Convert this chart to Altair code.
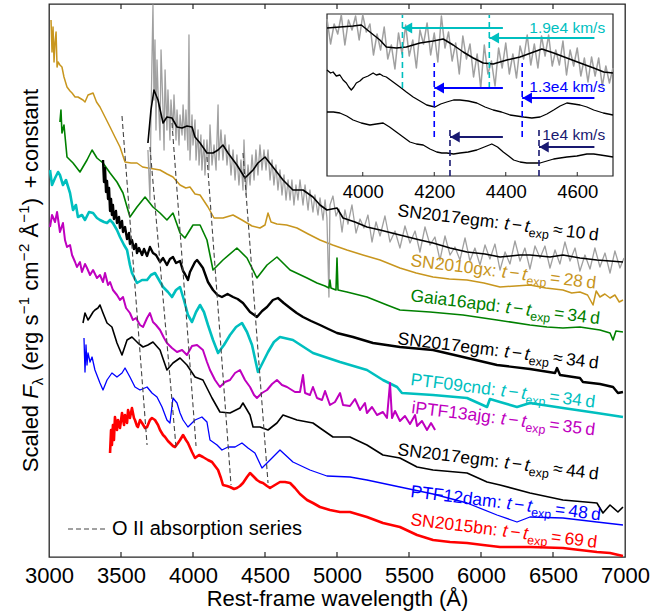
import altair as alt
import pandas as pd

FONT = "Liberation Sans"
GOLD = "#C8961E"; GREEN = "#008000"; CYAN = "#00BFBF"; MAGENTA = "#BF00BF"
BLUE = "#0000FF"; RED = "#FF0000"; GRAY = "#A0A0A0"; NAVY = "#191970"; BLACK = "#000000"

# ---------------- main panel spectra (wavelength in Angstrom, scaled flux + constant) -------------
gold_wl = [3014,3021,3028,3035,3042,3049,3056,3063,3076,3090,3104,3125,3146,3160,3181,3201,3236,3250,3271,3306,
           3330,3354,3389,3424,3458,3493,3528,3570,3611,3650,3687,3730,3771,3820,3861,3910,3950,3979,4014,4049,
           4104,4146,4208,4278,4340,4410,4465,4500,4521,4542,4583,4650,4722,4800,4882,4970,5069,5180,5299,5437,
           5550,5667,5780,5903,6020,6132,6240,6340,6450,6569,6630,6687,6740,6778,6800,6826,6860,6896,6930,6960,6986]
gold_fx = [53.7,50.5,53.0,49.5,51.5,52.5,49.0,49.5,49.2,49.0,48.0,47.0,46.6,46.4,46.0,46.0,45.7,45.5,46.2,46.4,
           45.5,45.0,44.0,43.0,42.0,41.0,39.5,39.4,39.4,39.0,38.9,38.8,38.7,38.3,38.0,37.2,36.9,37.0,36.3,36.2,
           35.0,33.9,33.9,34.2,33.7,33.1,32.9,33.2,34.4,33.5,33.3,33.2,32.9,32.3,31.7,31.2,30.7,30.2,29.7,28.9,
           28.4,28.0,27.8,27.7,27.4,27.0,27.1,27.2,26.9,26.7,26.4,26.5,26.2,25.2,26.6,26.0,26.3,25.9,26.2,25.5,25.7]

raw10_wl = [3687,3701,3708,3715,3722,3729,3736,3743,3750,3757,3771,3778,3792,3799,3806,3819,3826,3840,3847,3861,
            3868,3882,3889,3903,3910,3924,3931,3944,3951,3965,3972,3979,3993,4000,4014,4021,4035,4042,4055,4062,
            4076,4083,4097,4111,4118,4132,4146,4160,4174,4180,4194,4208,4222,4236,4250,4264,4278,4292,4305,4319,
            4333,4347,4354,4368,4382,4396,4410,4424,4437,4451,4465,4479,4493,4507,4521,4535,4549,4562,4576,4590,
            4604,4618,4632,4646,4660,4674,4687,4701,4715,4729,4743,4764,4778,4799,4812,4833,4847,4868,4882,4903,
            4917,4930,4944,4951,4972,4993,5014,5035,5055,5076,5104,5132,5160,5187,5215,5243,5271,5299,5333,5368,
            5403,5437,5472,5507,5542,5576,5611,5646,5680,5715,5750,5785,5819,5854,5889,5923,5958,5993,6028,6062,
            6097,6132,6167,6201,6236,6271,6305,6340,6375,6410,6444,6479,6514,6548,6583,6618,6653,6687,6722,6757,
            6791,6826,6861,6896,6930,6965,6993]
raw10_fx = [40.7,35.7,43.7,49.7,55.2,45.7,51.7,42.7,49.7,46.7,41.7,50.7,44.7,40.7,48.7,42.7,46.7,41.7,45.7,42.7,
            46.2,41.7,44.7,41.2,44.2,42.2,45.2,41.7,44.7,40.7,52.2,39.7,44.2,41.2,43.7,39.7,42.7,39.2,42.2,38.7,
            41.7,38.2,41.7,38.7,43.2,39.2,41.2,38.7,45.2,39.7,42.7,39.7,42.2,39.2,41.2,38.2,40.7,37.7,40.2,37.2,
            39.7,36.7,41.7,36.2,39.2,37.2,40.2,37.7,40.7,38.2,41.2,38.7,40.7,38.7,40.7,37.7,39.7,37.2,39.2,36.7,
            38.7,36.2,38.2,35.7,37.7,35.7,37.7,35.2,37.2,35.7,37.7,35.2,37.2,34.7,36.7,34.5,36.2,34.2,35.9,33.7,
            35.7,33.9,26.0,35.2,36.1,34.1,34.8,32.5,34.7,33.3,35.2,32.4,33.8,32.9,34.2,31.5,33.5,32.1,34.1,31.5,
            32.6,30.9,33.1,31.4,32.6,30.5,33.0,31.2,32.0,29.7,32.1,30.2,31.0,29.7,31.9,29.6,30.9,29.2,31.2,29.8,
            31.3,28.7,30.5,29.3,31.6,29.6,30.9,28.8,31.1,29.9,31.1,28.9,30.7,29.3,31.5,29.6,30.9,28.6,30.2,28.8,
            30.9,29.0,30.4,28.4,30.6,28.9,29.9]

sm10_wl = [3687,3708,3729,3757,3792,3819,3854,3889,3924,3958,3993,4014,4049,4097,4139,4174,4208,4243,4305,4361,
           4417,4451,4500,4555,4625,4694,4764,4833,4882,4930,5000,5042,5125,5208,5299,5437,5576,5667,5785,5903,
           6028,6132,6271,6340,6479,6569,6687,6805,6896,6986]
sm10_fx = [41.4,44.7,46.7,45.7,43.4,44.0,43.9,43.0,42.9,43.1,43.0,42.0,41.4,40.4,40.4,40.7,41.2,40.4,39.2,37.9,
           38.7,39.4,40.0,39.0,37.7,36.7,36.7,36.0,35.2,34.7,34.9,33.9,33.5,33.0,32.7,32.2,31.7,31.4,30.9,30.5,
           30.3,30.0,30.2,30.2,30.0,30.2,29.9,29.7,29.6,29.5]

gaia_wl = [3076,3083,3090,3104,3125,3167,3215,3264,3299,3333,3375,3424,3472,3514,3562,3611,3667,3722,3771,3819,
           3861,3910,3944,4000,4049,4097,4139,4153,4208,4305,4375,4444,4514,4583,4674,4792,4861,4917,4944,4951,
           4958,4993,5000,5007,5069,5208,5347,5437,5646,5875,6111,6340,6458,6569,6687,6826,6896,6917,6937,6986]
gaia_fx = [43.5,44.7,42.4,43.2,40.0,39.4,38.5,39.7,40.7,39.9,39.4,38.4,37.5,36.4,34.0,35.0,36.0,35.0,34.4,33.7,
           34.4,32.4,31.9,33.2,33.2,31.7,28.7,28.9,29.7,30.9,29.9,27.9,29.2,30.0,28.7,27.9,27.4,27.1,26.9,27.7,
           26.9,26.7,29.9,26.7,26.5,26.0,25.2,24.7,24.5,24.2,23.7,23.2,23.0,22.9,23.0,22.7,22.4,21.7,22.6,22.5]

egm34_wl = [3375,3382,3389,3396,3403,3410,3417,3424,3431,3437,3444,3451,3465,3472,3486,3493,3507,3514,3528,3542,
            3556,3562,3576,3590,3604,3611,3625,3646,3660,3681,3701,3722,3743,3771,3792,3819,3840,3861,3882,3910,
            3931,3944,3965,3979,3993,4014,4028,4049,4069,4104,4139,4170,4201,4240,4278,4310,4347,4396,4444,4480,
            4514,4555,4590,4630,4674,4720,4764,4820,4882,4940,5000,5111,5250,5437,5667,5875,6111,6340,6514,6528,
            6549,6687,6708,6826,6917,6951,6986]
egm34_fx = [39.7,37.5,38.9,36.5,37.6,35.8,36.9,34.6,35.8,34.2,35.2,33.8,34.6,33.4,34.0,32.9,33.6,32.5,33.0,31.8,
            32.4,31.3,31.7,30.8,31.3,30.4,30.9,30.2,30.8,30.1,31.0,30.4,30.2,29.5,29.9,29.2,29.8,30.0,29.4,29.6,
            28.6,28.3,27.7,28.5,28.9,29.5,29.7,29.3,28.9,27.5,26.7,26.2,26.0,26.3,26.0,25.8,25.4,24.5,24.0,24.6,
            25.0,25.7,25.9,25.4,24.9,24.4,24.0,23.6,23.2,22.8,22.4,22.0,21.4,21.0,20.7,20.0,19.2,18.8,18.4,18.9,
            18.2,17.9,17.5,17.3,17.0,16.4,16.5]

ptf09_wl = [3007,3021,3042,3063,3076,3097,3118,3146,3167,3187,3201,3229,3250,3278,3306,3333,3354,3382,3403,3424,
            3444,3472,3493,3521,3542,3562,3576,3611,3646,3681,3708,3736,3764,3792,3826,3854,3882,3910,3937,3965,
            3993,4021,4049,4076,4104,4139,4174,4215,4257,4299,4340,4375,4410,4451,4486,4521,4562,4604,4694,4833,
            5021,5208,5319,5417,5451,5667,5903,6042,6062,6132,6250,6340,6569,6805,6986]
ptf09_fx = [38.7,37.2,37.9,38.5,38.2,37.2,37.7,36.4,34.7,35.2,34.0,34.2,33.7,34.5,34.4,33.9,33.7,33.5,33.4,33.7,
            33.4,32.7,32.0,31.2,30.7,29.2,28.4,27.4,27.7,27.7,28.2,28.4,27.7,27.0,26.5,26.0,26.7,27.0,25.7,24.2,
            23.5,24.5,25.2,24.5,23.2,21.7,20.4,21.2,22.2,23.0,23.4,22.5,21.2,18.5,19.5,20.5,21.5,22.0,21.7,20.4,
            19.5,18.7,17.7,17.0,16.4,16.2,15.9,15.0,15.8,15.5,15.0,15.4,14.9,14.4,14.0]

ptf13_wl = [3007,3021,3042,3056,3076,3097,3111,3125,3146,3160,3181,3194,3215,3229,3250,3264,3285,3306,3333,3354,
            3375,3389,3410,3424,3444,3472,3493,3514,3535,3562,3583,3604,3632,3653,3681,3701,3722,3743,3771,3799,
            3819,3854,3889,3924,3958,3993,4028,4069,4097,4118,4153,4187,4222,4257,4292,4326,4361,4396,4424,4444,
            4479,4514,4549,4583,4618,4653,4708,4743,4764,4778,4812,4833,4861,4896,4917,4951,4986,5021,5042,5090,
            5125,5160,5194,5208,5243,5278,5319,5347,5368,5382,5403,5437,5472,5507,5542,5556,5590,5625,5653,5681]
ptf13_fx = [33.0,34.2,33.5,34.5,32.5,33.4,31.7,31.0,31.2,30.2,29.5,29.0,29.5,28.5,29.3,28.9,28.2,28.7,27.9,28.2,
            27.5,28.4,27.2,27.5,26.7,26.2,25.7,26.0,24.9,24.4,23.7,23.9,23.2,23.0,23.9,24.4,23.5,23.2,22.7,21.9,
            21.4,20.9,20.5,20.7,20.2,21.1,21.2,20.7,19.5,18.7,17.7,17.0,17.5,17.7,18.4,18.7,17.7,17.0,16.2,15.9,
            16.4,16.7,17.3,17.7,17.2,17.0,16.5,16.5,18.2,16.4,16.2,17.0,15.9,15.7,16.6,15.2,15.5,16.4,15.2,15.1,
            15.8,14.7,15.4,14.4,15.0,14.2,14.5,13.9,17.4,13.9,14.6,13.6,14.1,13.3,14.2,13.1,13.6,12.7,13.4,12.7]

egm44_wl = [3236,3250,3271,3285,3306,3319,3340,3354,3375,3403,3437,3472,3507,3542,3576,3618,3653,3687,3722,3771,
            3819,3861,3910,3958,4014,4069,4132,4187,4257,4326,4347,4396,4417,4465,4521,4583,4625,4722,4833,4882,
            4972,5090,5208,5319,5437,5556,5667,5903,6042,6132,6340,6569,6805,6847,6896,6951,6986]
egm44_fx = [23.4,24.4,23.7,24.0,24.5,24.7,24.9,25.2,24.4,23.4,23.0,21.4,20.2,21.7,22.0,21.4,21.0,21.2,21.5,20.7,
            18.7,19.4,19.9,19.2,18.0,17.7,15.9,14.5,14.4,14.9,15.4,14.2,13.0,13.0,12.7,13.4,14.2,13.7,13.4,12.9,
            12.0,12.0,11.2,10.2,9.9,9.0,8.7,8.4,7.5,7.2,6.4,5.7,5.4,4.4,5.2,4.5,5.0]

ptf12_wl = [3243,3250,3257,3264,3271,3285,3299,3319,3354,3375,3403,3437,3472,3507,3528,3562,3597,3632,3681,3715,
            3750,3785,3819,3840,3861,3889,3910,3931,3965,4014,4062,4097,4118,4167,4201,4243,4292,4340,4382,4430,
            4479,4535,4604,4694,4812,4930,5090,5208,5437,5667,5903,6111,6250,6340,6569,6805,6986]
ptf12_fx = [21.9,18.5,21.2,19.2,20.4,19.5,20.0,18.7,17.4,16.7,17.7,18.4,18.0,18.4,18.9,18.0,17.0,16.7,17.0,16.4,
            16.0,15.0,13.7,13.4,15.9,15.4,14.4,13.7,13.0,13.7,14.0,13.5,11.7,11.2,10.7,11.0,11.0,11.4,10.9,10.4,
            8.9,9.7,10.7,9.5,8.7,8.1,8.0,7.7,7.0,6.3,5.4,4.2,3.5,4.0,3.9,3.5,3.2]

sn15_wl = [3424,3431,3437,3444,3451,3458,3472,3479,3493,3507,3521,3528,3542,3549,3562,3576,3590,3597,3611,3618,
           3632,3646,3667,3681,3701,3715,3736,3757,3771,3792,3806,3826,3840,3861,3875,3896,3910,3931,3951,3965,
           3993,4014,4042,4069,4104,4132,4153,4174,4194,4208,4236,4257,4285,4305,4326,4347,4375,4396,4424,4444,
           4465,4486,4514,4535,4569,4604,4639,4674,4708,4743,4792,4833,4882,4951,5021,5090,5208,5319,5437,5556,
           5667,5785,5903,6014,6132,6340,6569,6805,6896,6986]
sn15_fx = [10.4,12.7,11.2,13.2,11.7,14.0,12.7,13.7,12.9,14.4,13.2,14.2,13.4,14.7,13.9,14.9,13.9,13.7,13.1,13.0,
           13.7,13.4,12.9,13.0,13.7,13.9,13.7,13.2,12.7,12.2,12.0,11.6,11.4,11.1,11.0,11.4,11.7,12.2,11.7,11.4,
           10.5,9.9,10.2,10.0,9.7,9.5,9.1,8.7,7.9,7.2,7.1,7.0,6.8,6.9,7.1,7.4,8.0,8.4,8.0,7.7,
           7.5,7.4,7.1,6.9,7.2,7.5,7.5,7.4,6.9,6.3,5.7,5.4,5.0,4.7,4.5,4.5,4.0,3.4,3.0,2.2,
           1.7,1.5,1.4,1.2,1.0,1.0,0.9,0.5,0.4,0.1]

# O II absorption series guide lines (start / end points)
oii_wl_top = [3507, 3701, 3854, 4097, 4347]
oii_fx_top = [44.1, 41.0, 43.4, 40.0, 40.4]
oii_wl_bot = [3681, 3882, 4021, 4264, 4521]
oii_fx_bot = [11.2, 11.0, 11.1, 7.2, 7.4]

# spectrum labels
lab_names = ["SN2017egm", "SN2010gx", "Gaia16apd", "SN2017egm", "PTF09cnd", "iPTF13ajg", "SN2017egm", "PTF12dam", "SN2015bn"]
lab_rel = ["≈", "=", "=", "≈", "=", "=", "≈", "=", "="]
lab_days = ["10", "28", "34", "34", "34", "35", "44", "48", "69"]
lab_colors = [BLACK, GOLD, GREEN, BLACK, CYAN, MAGENTA, BLACK, BLUE, RED]
lab_wl = [5417, 5507, 5507, 5417, 5507, 5514, 5417, 5507, 5507]
lab_fx = [34.1, 29.1, 25.6, 21.3, 17.2, 14.4, 10.2, 6.0, 3.2]

x_ticks = [3000, 3500, 4000, 4500, 5000, 5500, 6000, 6500, 7000]

# ---------------- inset (zoom on 3900-4700 A) ----------------
in_raw_wl = list(range(3900, 4701, 10))
in_raw_fx = [15.7,13.2,15.2,14.2,16.1,13.1,15.6,14.6,16.0,13.6,16.1,14.4,15.2,12.1,14.2,12.6,14.9,11.7,13.1,10.7,
             14.3,12.2,15.1,12.0,13.6,10.8,14.6,13.2,15.3,12.1,14.3,11.4,16.0,12.8,14.4,11.5,13.3,10.2,14.0,11.7,
             13.2,9.9,12.2,8.8,13.1,10.2,11.5,9.0,12.8,10.8,13.3,10.2,12.2,9.8,13.0,11.7,14.1,11.1,13.2,10.8,
             14.0,12.0,14.1,11.0,12.6,11.1,13.5,10.1,12.6,11.0,12.8,10.0,11.8,9.4,11.9,10.0,11.8,9.0,11.0,9.3,10.8]
in10_wl = [3900,3936,3973,3996,4020,4048,4066,4094,4122,4160,4197,4225,4253,4281,4309,4337,4365,4403,4440,4478,
           4501,4534,4571,4608,4646,4674,4700]
in10_fx = [14.8,14.9,15.0,15.1,14.4,13.6,12.9,12.8,12.9,13.3,13.5,13.7,13.1,12.4,11.8,11.3,11.2,11.6,11.9,12.4,
           12.7,12.3,11.8,11.3,10.8,10.4,10.3]
in34_wl = [3900,3910,3917,3926,3936,3945,3954,3961,3968,3975,3982,3992,4001,4015,4029,4038,4048,4057,4066,4085,
           4104,4122,4141,4160,4179,4190,4202,4218,4235,4254,4272,4295,4319,4342,4365,4388,4412,4431,4450,4473,
           4496,4515,4534,4552,4571,4590,4608,4627,4646,4673,4700]
in34_fx = [10.6,10.3,10.4,10.0,10.1,9.6,9.3,8.9,8.6,8.9,9.3,9.5,9.8,10.0,10.3,10.1,10.2,10.0,9.9,9.4,
           8.9,8.4,7.9,7.5,7.1,7.0,6.9,7.2,7.4,7.6,7.6,7.5,7.3,6.9,6.6,6.4,6.1,6.0,5.9,5.8,
           5.9,6.2,6.6,7.0,7.3,7.2,7.1,6.9,6.6,6.3,6.1]
in44_wl = [3900,3918,3936,3955,3973,3996,4020,4038,4057,4075,4094,4113,4132,4150,4169,4188,4207,4221,4235,4254,
           4272,4295,4319,4340,4361,4377,4393,4408,4422,4440,4459,4477,4496,4515,4534,4552,4571,4599,4627,4646,
           4665,4683,4700]
in44_fx = [6.4,6.4,6.3,6.0,5.6,5.3,5.1,5.2,5.3,4.9,4.4,3.9,3.4,3.2,3.1,2.7,2.4,2.3,2.3,2.2,
           2.3,2.4,2.6,2.9,3.2,2.9,2.4,2.0,1.6,1.4,1.3,1.3,1.3,1.5,1.7,1.8,1.9,2.0,2.2,2.2,
           2.1,2.0,1.9]

vel_head_wl = [4111, 4354, 4200, 4446, 4244, 4493]
vel_tail_wl = [4392, 4648, 4392, 4648, 4392, 4648]
vel_arrow_fx = [14.8, 13.8, 8.8, 7.8, 3.9, 2.9]
vel_line_lo = [8.8, 8.8, 3.9, 3.9, 0.0, 0.0]
vel_line_hi = [16.1, 16.1, 11.3, 11.3, 4.8, 4.8]
vel_colors = [CYAN, CYAN, BLUE, BLUE, NAVY, NAVY]
vel_text = ["1.9e4 km/s", "1.3e4 km/s", "1e4 km/s"]
vel_text_fx = [14.3, 8.4, 3.6]
vel_text_colors = [CYAN, BLUE, NAVY]
inset_ticks = [4000, 4200, 4400, 4600]

# ---------------- helpers ----------------
AW = {' ': 0.278, ':': 0.278, '−': 0.584, '≈': 0.584, '=': 0.584, '+': 0.584, '(': 0.333, ')': 0.333,
      '.': 0.278, '/': 0.278, 'S': 0.667, 'N': 0.722, 'G': 0.778, 'P': 0.667, 'T': 0.611, 'F': 0.611,
      'A': 0.667, 'Å': 0.667, 'a': 0.556, 'b': 0.556, 'c': 0.5, 'd': 0.556, 'e': 0.556, 'g': 0.556,
      'i': 0.222, 'j': 0.222, 'k': 0.5, 'l': 0.222, 'm': 0.833, 'n': 0.556, 'o': 0.556, 'p': 0.556,
      'r': 0.333, 's': 0.5, 't': 0.278, 'x': 0.5, 'λ': 0.556}


def tw(s, size):
    return sum(AW.get(c, 0.556) for c in s) * size


def piece(txt, size, style="normal", dy=0, slot=None, trail=0.0):
    """slot: width (em) of a centred slot; otherwise left aligned with advance = text width + trail (em)."""
    if slot is not None:
        return dict(txt=txt, size=size, style=style, dy=dy, align="center", adv=slot * size)
    return dict(txt=txt, size=size, style=style, dy=dy, align="left", adv=tw(txt, size) + trail * size)


def place(pieces, chart_fn, angle, color):
    out = []
    dx = 0.0
    for p in pieces:
        off = dx + (p["adv"] / 2 if p["align"] == "center" else 0)
        out.append(chart_fn().mark_text(text=p["txt"], align=p["align"], baseline="alphabetic", angle=angle,
                                        dx=off, dy=p["dy"], fontSize=p["size"], fontStyle=p["style"],
                                        color=color, font=FONT))
        dx += p["adv"]
    return out, dx


W, H = 576, 553
XS = alt.Scale(domain=[3000, 7000], nice=False, zero=False)
YS = alt.Scale(domain=[0, 55.3], nice=False, zero=False)
XAX = alt.Axis(values=x_ticks, format="d", labelFontSize=22, titleFontSize=22, ticks=False, tickSize=0,
               domain=False, grid=False, labelPadding=8, titlePadding=2, labelFlush=False, labelOverlap=False,
               titleFontWeight="normal", labelColor="black", titleColor="black", labelFont=FONT, titleFont=FONT,
               title="Rest-frame wavelength (Å)")

IXS = alt.Scale(domain=[3900, 4700], range=[278, 564], nice=False, zero=False)
IYS = alt.Scale(domain=[0, 16.2], range=[172, 10], nice=False, zero=False)
IXAX = alt.Axis(values=inset_ticks, format="d", labelFontSize=18.5, ticks=False, tickSize=0, domain=False,
                grid=False, labelPadding=6, labelFlush=False, labelOverlap=False, orient="bottom",
                offset=-(H - 172), title=None, labelFont=FONT, labelColor="black")


def mx(field="wl"):
    return alt.X(f"{field}:Q", scale=XS, axis=XAX)


def my(field="fx"):
    return alt.Y(f"{field}:Q", scale=YS, axis=None)


def ix(field="wl"):
    return alt.X(f"{field}:Q", scale=IXS, axis=IXAX)


def iy(field="fx"):
    return alt.Y(f"{field}:Q", scale=IYS, axis=None)


def spec(wl, fx, color, width, inset=False):
    df = pd.DataFrame({"wl": wl, "fx": fx})
    m = alt.Chart(df).mark_line(color=color, strokeWidth=width, strokeJoin="round", clip=not inset)
    if inset:
        return m.encode(x=ix(), y=iy())
    return m.encode(x=mx(), y=my())


main_layers = []
# frame ticks (inward)
tick_df = pd.DataFrame({"wl": x_ticks[1:-1], "b0": [0.0] * 7, "b1": [0.5] * 7, "t0": [55.3] * 7, "t1": [54.8] * 7})
main_layers.append(alt.Chart(tick_df).mark_rule(color="#262626", strokeWidth=1.2).encode(x=mx(), y=my("b0"), y2="b1"))
main_layers.append(alt.Chart(tick_df).mark_rule(color="#262626", strokeWidth=1.2).encode(x=mx(), y=my("t0"), y2="t1"))

main_layers += [
    spec(gold_wl, gold_fx, GOLD, 1.5),
    spec(raw10_wl, raw10_fx, GRAY, 1.3),
    spec(sm10_wl, sm10_fx, BLACK, 1.6),
    spec(gaia_wl, gaia_fx, GREEN, 1.6),
    spec(egm34_wl, egm34_fx, BLACK, 2.4),
    spec(ptf09_wl, ptf09_fx, CYAN, 2.6),
    spec(ptf13_wl, ptf13_fx, MAGENTA, 2.0),
    spec(egm44_wl, egm44_fx, BLACK, 1.6),
    spec(ptf12_wl, ptf12_fx, BLUE, 1.3),
    spec(sn15_wl, sn15_fx, RED, 2.6),
]

oii_df = pd.DataFrame({"wl": oii_wl_top, "fx": oii_fx_top, "wl2": oii_wl_bot, "fx2": oii_fx_bot})
main_layers.append(alt.Chart(oii_df).mark_rule(color="#444444", strokeWidth=1.1, strokeDash=[5, 3]).encode(
    x=mx(), y=my(), x2="wl2", y2="fx2"))

# legend for O II
leg_df = pd.DataFrame({"wl": [3132], "wl2": [3403], "fx": [2.8], "tx": [3437]})
main_layers.append(alt.Chart(leg_df).mark_rule(color="#444444", strokeWidth=1.1, strokeDash=[5, 3]).encode(
    x=mx(), x2="wl2", y=my()))
main_layers.append(alt.Chart(leg_df).mark_text(text="O II absorption series", align="left", baseline="middle",
                                                fontSize=20, font=FONT, color="black").encode(x=mx("tx"), y=my()))

# spectrum labels built from pieces: name, italic t - t, subscript exp, relation, days
LS, SS = 17.5, 12.5
for name, rel, days, col, lw, lf in zip(lab_names, lab_rel, lab_days, lab_colors, lab_wl, lab_fx):
    df = pd.DataFrame({"wl": [lw], "fx": [lf]})
    pcs = [piece(name + ":", LS, trail=0.30),
           piece("t", LS, "italic"),
           piece("−", LS, slot=0.90),
           piece("t", LS, "italic"),
           piece("exp", SS, dy=4.5),
           piece(rel, LS, slot=0.95),
           piece(days, LS, trail=0.20),
           piece("d", LS)]
    marks, _ = place(pcs, lambda: alt.Chart(df), 7, col)
    main_layers += [m.encode(x=mx(), y=my()) for m in marks]

# y axis title built from pieces
BS, US = 22, 15
ypcs = [piece("Scaled", BS, trail=0.28), piece("F", BS, "italic"), piece("λ", US, dy=5, trail=0.28 * BS / US),
        piece("(erg", BS, trail=0.28), piece("s", BS), piece("−", US, dy=-9, slot=0.62),
        piece("1", US, dy=-9, trail=0.28 * BS / US), piece("cm", BS), piece("−", US, dy=-9, slot=0.62),
        piece("2", US, dy=-9, trail=0.28 * BS / US), piece("Å", BS), piece("−", US, dy=-9, slot=0.62),
        piece("1", US, dy=-9), piece(")", BS, trail=0.28), piece("+", BS, slot=0.62, trail=0),
        piece("constant", BS)]
ypcs[14]["adv"] += 0.28 * BS  # space after "+"
total = sum(p["adv"] for p in ypcs)
one = pd.DataFrame({"k": [0]})
ymarks, _ = place(ypcs, lambda: alt.Chart(one), 270, "black")
y0 = H / 2 + total / 2
main_layers += [m.encode(x=alt.value(-11), y=alt.value(y0)) for m in ymarks]

main = alt.layer(*main_layers)

# ---------------- inset layers ----------------
inset_layers = []
frame_df = pd.DataFrame({"wl": [3900], "wl2": [4700], "fx": [0.0], "fx2": [16.2]})
inset_layers.append(alt.Chart(frame_df).mark_rect(fill="white", stroke="#262626", strokeWidth=1.2).encode(
    x=ix(), x2="wl2", y=iy(), y2="fx2"))
itick_df = pd.DataFrame({"wl": inset_ticks, "a": [0.0] * 4, "b": [0.4] * 4})
inset_layers.append(alt.Chart(itick_df).mark_rule(color="#262626", strokeWidth=1).encode(x=ix(), y=iy("a"), y2="b"))
inset_layers += [
    spec(in_raw_wl, in_raw_fx, GRAY, 1.5, inset=True),
    spec(in10_wl, in10_fx, BLACK, 1.5, inset=True),
    spec(in34_wl, in34_fx, BLACK, 1.3, inset=True),
    spec(in44_wl, in44_fx, BLACK, 1.3, inset=True),
]
vel_df = pd.DataFrame({"wl": vel_head_wl, "tail": vel_tail_wl, "fx": vel_arrow_fx, "lo": vel_line_lo,
                       "hi": vel_line_hi, "c": vel_colors})
inset_layers.append(alt.Chart(vel_df).mark_rule(strokeWidth=1.6, strokeDash=[6, 4]).encode(
    x=ix(), y=iy("lo"), y2="hi", color=alt.Color("c:N", scale=None)))
inset_layers.append(alt.Chart(vel_df).mark_rule(strokeWidth=2).encode(
    x=ix("tail"), x2="wl", y=iy(), color=alt.Color("c:N", scale=None)))
inset_layers.append(alt.Chart(vel_df).mark_point(shape="triangle-left", filled=True, size=120, opacity=1,
                                                 xOffset=5).encode(
    x=ix(), y=iy(), color=alt.Color("c:N", scale=None)))
vt_df = pd.DataFrame({"wl": [4678] * 3, "fx": vel_text_fx, "t": vel_text, "c": vel_text_colors})
inset_layers.append(alt.Chart(vt_df).mark_text(align="right", baseline="alphabetic", fontSize=15.5, font=FONT).encode(
    x=ix(), y=iy(), text="t:N", color=alt.Color("c:N", scale=None)))

inset = alt.layer(*inset_layers)

chart = (alt.layer(main, inset)
         .resolve_scale(x="independent", y="independent")
         .properties(width=W, height=H, padding={"left": 49, "top": 4, "right": 25, "bottom": 54},
                     autosize=alt.AutoSizeParams(type="none"))
         .configure(font=FONT)
         .configure_view(stroke="#262626", strokeWidth=1.3))

chart.save("out.html", embed_options={"renderer": "svg", "actions": False})
